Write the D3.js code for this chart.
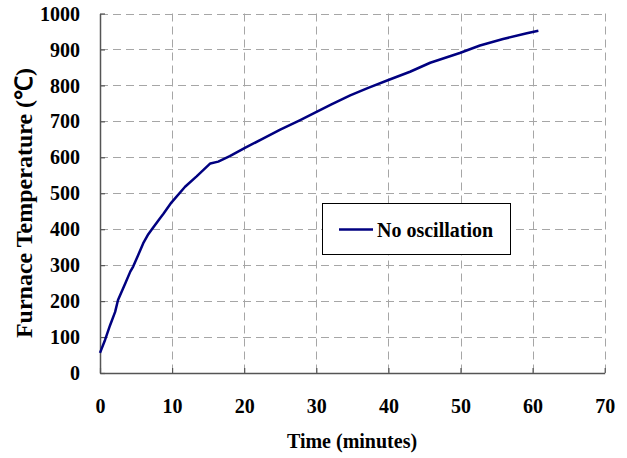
<!DOCTYPE html>
<html>
<head>
<meta charset="utf-8">
<script src="https://cdn.jsdelivr.net/npm/d3@7"></script>
<style>
  body { margin: 0; background: #fff; }
  svg { display: block; }
  svg text { font-family: "Liberation Serif", "Times New Roman", serif; font-weight: bold; fill: #000; }
</style>
</head>
<body>
<svg id="chart" width="627" height="458"></svg>
<script>
// time (minutes) and furnace temperature
const time_vals = [0, 0.7, 1.4, 2.1, 2.5, 3.5, 4.2, 4.6, 5.3, 6.0, 6.7, 7.2, 8.3, 8.8, 9.9, 11.8, 13.4, 15.3, 16.4, 18.0, 20.1, 22.6, 25.0, 27.7, 30.1, 32.1, 34.7, 37.2, 40.0, 43.0, 45.8, 49.9, 52.7, 55.9, 59.2, 60.8];
const temp_vals = [56, 92, 133, 170, 203, 249, 282, 296, 328, 361, 386, 400, 430, 443, 474, 518, 547, 583, 588, 603, 626, 652, 677, 703, 727, 747, 772, 793, 815, 838, 863, 890, 911, 929, 945, 952];
const x_ticks = [0, 10, 20, 30, 40, 50, 60, 70];
const y_ticks = [0, 100, 200, 300, 400, 500, 600, 700, 800, 900, 1000];
const series_name = "No oscillation";

const svg = d3.select("#chart");
const plot_l = 100, plot_r = 604.7, plot_t = 13.5, plot_b = 373;

const x = d3.scaleLinear().domain([0, 70]).range([plot_l, plot_r]);
const y = d3.scaleLinear().domain([0, 1000]).range([plot_b, plot_t]);

// grid
const grid = svg.append("g")
    .attr("stroke", "#a6a6a6")
    .attr("stroke-width", 1)
    .attr("stroke-dasharray", "8,5");
grid.selectAll("line.h").data(y_ticks.filter(d => d > 0)).join("line")
    .attr("class", "h")
    .attr("x1", plot_l).attr("x2", plot_r)
    .attr("y1", d => Math.round(y(d)) + 0.5).attr("y2", d => Math.round(y(d)) + 0.5);
grid.selectAll("line.v").data(x_ticks.filter(d => d > 0)).join("line")
    .attr("class", "v")
    .attr("y1", plot_t).attr("y2", plot_b)
    .attr("x1", d => Math.round(x(d)) + 0.5).attr("x2", d => Math.round(x(d)) + 0.5);

// axes
const xAxis = d3.axisBottom(x).tickValues(x_ticks).tickFormat(d3.format("d"))
    .tickSizeInner(-5).tickSizeOuter(0).tickPadding(40);
const yAxis = d3.axisLeft(y).tickValues(y_ticks).tickFormat(d3.format("d"))
    .tickSizeInner(-5).tickSizeOuter(0).tickPadding(20);

const gx = svg.append("g").attr("transform", `translate(0,${plot_b})`).call(xAxis);
const gy = svg.append("g").attr("transform", `translate(${plot_l},0)`).call(yAxis);

[gx, gy].forEach(g => {
    g.attr("font-family", null).attr("font-size", null);
    g.select(".domain").attr("stroke", "#555").attr("stroke-width", 1.5);
    g.selectAll(".tick line").attr("stroke", "#555").attr("stroke-width", 1.2);
    g.selectAll(".tick text")
        .style("font-family", "'Liberation Serif', 'Times New Roman', serif")
        .style("font-size", "20px");
});
gx.selectAll(".tick text").attr("dy", 0);
gy.selectAll(".tick text").attr("dy", "0.33em");

// line
const pts = time_vals.map((t, i) => [t, temp_vals[i]]);
svg.append("path")
    .datum(pts)
    .attr("fill", "none")
    .attr("stroke", "#000080")
    .attr("stroke-width", 2.5)
    .attr("stroke-linejoin", "round")
    .attr("d", d3.line().x(d => x(d[0])).y(d => y(d[1])));

// axis titles
svg.append("text")
    .attr("x", 352)
    .attr("y", 448)
    .attr("text-anchor", "middle")
    .style("font-size", "20px")
    .text("Time (minutes)");

svg.append("text")
    .attr("transform", "translate(32,203) rotate(-90)")
    .attr("text-anchor", "middle")
    .style("font-size", "24px")
    .text("Furnace Temperature (℃)");

// legend
const lg = svg.append("g");
lg.append("rect")
    .attr("x", 322.5).attr("y", 203.5)
    .attr("width", 188).attr("height", 51)
    .attr("fill", "#fff")
    .attr("stroke", "#000")
    .attr("stroke-width", 1);
lg.append("line")
    .attr("x1", 339).attr("x2", 373)
    .attr("y1", 229.5).attr("y2", 229.5)
    .attr("stroke", "#000080")
    .attr("stroke-width", 2.5);
lg.append("text")
    .attr("x", 377).attr("y", 237)
    .style("font-size", "20px")
    .text(series_name);
</script>
</body>
</html>
